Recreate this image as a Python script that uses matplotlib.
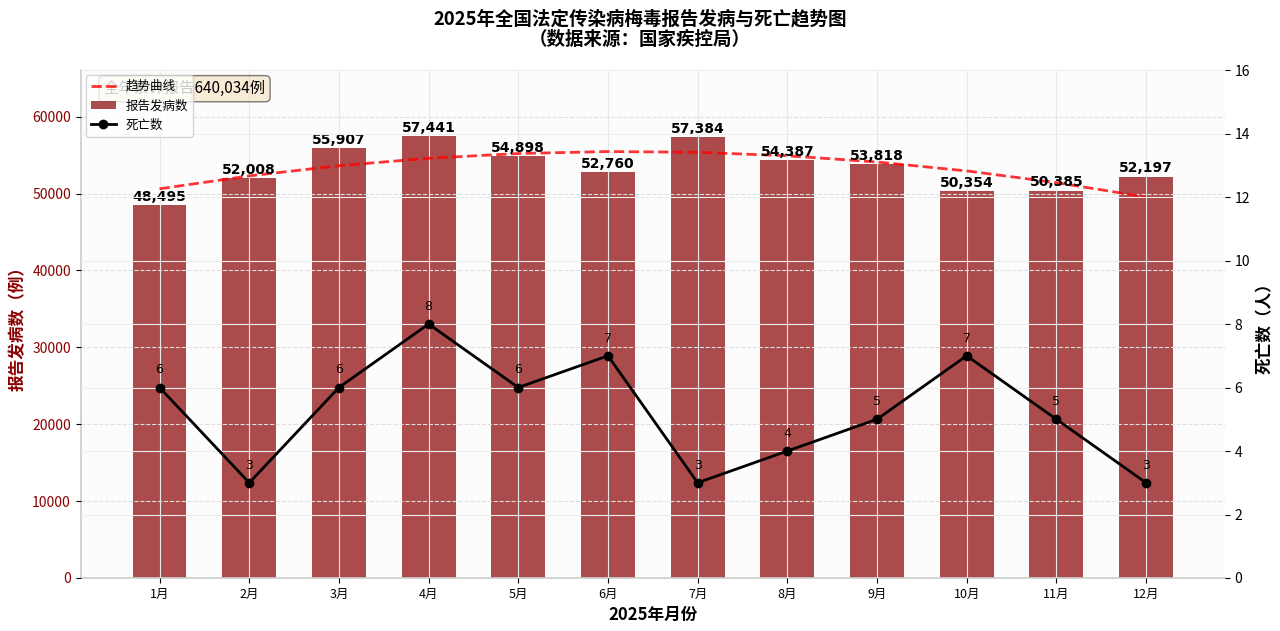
import numpy as np
import matplotlib
matplotlib.use("Agg")
import matplotlib.pyplot as plt

plt.rcParams['font.family'] = ['Noto Sans CJK SC', 'DejaVu Sans']
plt.rcParams['axes.unicode_minus'] = False

# ----------------------------
# Data
# ----------------------------
months = ["1月", "2月", "3月", "4月", "5月", "6月", "7月", "8月", "9月", "10月", "11月", "12月"]
cases = [48495, 52008, 55907, 57441, 54898, 52760, 57384, 54387, 53818, 50354, 50385, 52197]
deaths = [6, 3, 6, 8, 6, 7, 3, 4, 5, 7, 5, 3]

x = np.arange(len(months))
total = sum(cases)

fig, ax1 = plt.subplots(figsize=(12.8, 6.31), dpi=100)
fig.subplots_adjust(left=0.063, right=0.957, top=0.889, bottom=0.084)
ax1.set_facecolor("#fcfcfc")

# bars
bars = ax1.bar(x, cases, width=0.6, color="darkred", alpha=0.7, label="报告发病数", zorder=2)
for xi, v in zip(x, cases):
    ax1.text(xi, v + 150, f"{v:,}", ha="center", va="bottom", fontsize=10,
             fontweight="bold", family=["DejaVu Sans"], zorder=5)

# trend curve (quadratic fit)
coef = np.polyfit(x, cases, 2)
trend = np.polyval(coef, x)
ax1.plot(x, trend, "--", color="red", lw=2, alpha=0.8, label="趋势曲线", zorder=4)

ax1.set_ylim(0, max(cases) * 1.15)
ax1.set_xticks(x)
ax1.set_xticklabels(months, fontsize=9)
ax1.set_ylabel("报告发病数（例）", color="darkred", fontsize=12, fontweight="bold")
ax1.set_xlabel("2025年月份", fontsize=12, fontweight="bold")
ax1.tick_params(axis="y", labelcolor="darkred", labelsize=10)
ax1.grid(True, color="#e8e8e8", lw=0.8, zorder=0)
ax1.grid(True, axis="y", linestyle="--", color="#e0e0e0", lw=0.8)
ax1.set_axisbelow(False)
for s in ["top", "right"]:
    ax1.spines[s].set_visible(False)
for s in ["left", "bottom"]:
    ax1.spines[s].set_color("#cccccc")
    ax1.spines[s].set_linewidth(1.2)

# deaths on secondary axis
ax2 = ax1.twinx()
ax2.plot(x, deaths, "o-", color="black", lw=2, markersize=6, label="死亡数", zorder=5)
for xi, d in zip(x, deaths):
    ax2.text(xi, d + 0.35, str(d), ha="center", va="bottom", fontsize=9,
             family=["DejaVu Sans"])
ax2.set_ylim(0, 16)
ax2.set_ylabel("死亡数（人）", fontsize=12, fontweight="bold")
ax2.tick_params(axis="y", labelsize=10)
ax2.grid(True, color="#eeeeee", lw=0.8)
for s in ax2.spines.values():
    s.set_visible(False)
ax1.set_xlim(-0.88, 11.88)

# total box (sits behind the legend, as in the original)
ax1.text(0.02, 0.98, f"全年累计报告{total:,}例", transform=ax1.transAxes, fontsize=11,
         va="top", ha="left",
         bbox=dict(boxstyle="round,pad=0.3", facecolor="wheat", alpha=0.5, edgecolor="black"))

h1, l1 = ax1.get_legend_handles_labels()
h2, l2 = ax2.get_legend_handles_labels()
ax2.legend(h1 + h2, l1 + l2, loc="upper left", fontsize=9, framealpha=0.8,
           borderaxespad=0.4)

fig.suptitle("2025年全国法定传染病梅毒报告发病与死亡趋势图\n（数据来源：国家疾控局）",
             fontsize=13.3, fontweight="bold", y=0.985, linespacing=1.1)

plt.savefig("out.png", dpi=100)
plt.close()
